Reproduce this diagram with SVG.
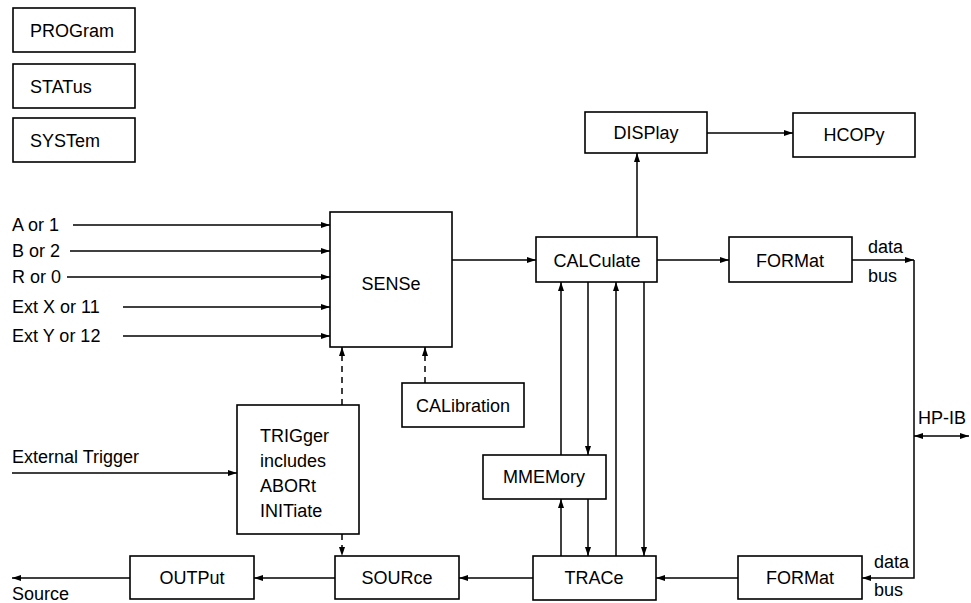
<svg xmlns="http://www.w3.org/2000/svg" width="971" height="603" viewBox="0 0 971 603">
<defs>
<marker id="ah" markerUnits="userSpaceOnUse" markerWidth="10" markerHeight="8" refX="9" refY="3" orient="auto">
<path d="M0,0 L9,3 L0,6 z" fill="#000"/>
</marker>
<marker id="ahs" markerUnits="userSpaceOnUse" markerWidth="10" markerHeight="8" refX="0" refY="3" orient="auto">
<path d="M9,0 L0,3 L9,6 z" fill="#000"/>
</marker>
<style>
rect{fill:#fff;stroke:#000;stroke-width:1.6}
text{font-family:"Liberation Sans",Arial,sans-serif;font-size:18px;fill:#000}
.c{text-anchor:middle}
.ln{fill:none;stroke:#000;stroke-width:1.5}
.a{marker-end:url(#ah)}
.d{stroke-dasharray:6,5}
</style>
</defs>
<rect width="971" height="603" fill="#fff" style="stroke:none"/>

<g id="connectors">
<line class="ln a" x1="73" y1="225" x2="330" y2="225"/>
<line class="ln a" x1="70" y1="251" x2="330" y2="251"/>
<line class="ln a" x1="67" y1="277" x2="330" y2="277"/>
<line class="ln a" x1="123" y1="307" x2="330" y2="307"/>
<line class="ln a" x1="123" y1="336" x2="330" y2="336"/>
<line class="ln a" x1="452" y1="260" x2="536" y2="260"/>
<line class="ln a" x1="637" y1="237" x2="637" y2="153"/>
<line class="ln a" x1="707" y1="133" x2="793" y2="133"/>
<line class="ln a" x1="657" y1="260" x2="729" y2="260"/>
<line class="ln a" x1="852" y1="260" x2="914" y2="260"/>
<polyline class="ln a" points="914,260 914,578 862,578"/>
<line class="ln a" x1="914" y1="436" x2="969" y2="436" style="marker-start:url(#ahs)"/>
<line class="ln a" x1="561" y1="455" x2="561" y2="282"/>
<line class="ln a" x1="588" y1="282" x2="588" y2="455"/>
<line class="ln a" x1="616" y1="556" x2="616" y2="282"/>
<line class="ln a" x1="644" y1="282" x2="644" y2="556"/>
<line class="ln a" x1="561" y1="556" x2="561" y2="499"/>
<line class="ln a" x1="588" y1="499" x2="588" y2="556"/>
<line class="ln a" x1="738" y1="578" x2="656" y2="578"/>
<line class="ln a" x1="533" y1="578" x2="459" y2="578"/>
<line class="ln a" x1="335" y1="578" x2="254" y2="578"/>
<line class="ln a" x1="130" y1="578" x2="12" y2="578"/>
<line class="ln a" x1="12" y1="473" x2="237" y2="473"/>
<line class="ln a d" x1="342" y1="405" x2="342" y2="347"/>
<line class="ln a d" x1="342" y1="534" x2="342" y2="556"/>
<line class="ln a d" x1="425" y1="383" x2="425" y2="347"/>
</g>

<g id="labels">
<text x="12" y="231">A or 1</text>
<text x="12" y="257">B or 2</text>
<text x="12" y="283">R or 0</text>
<text x="12" y="313">Ext X or 11</text>
<text x="12" y="342">Ext Y or 12</text>
<text x="12" y="463">External Trigger</text>
<text x="12" y="600">Source</text>
<text x="868" y="253">data</text>
<text x="868" y="282">bus</text>
<text x="874" y="568">data</text>
<text x="874" y="596">bus</text>
<text x="918" y="424">HP-IB</text>
</g>

<g id="program"><rect x="13" y="8" width="122" height="44"/><text x="30" y="37">PROGram</text></g>
<g id="status"><rect x="13" y="64" width="122" height="44"/><text x="30" y="93">STATus</text></g>
<g id="system"><rect x="13" y="118" width="122" height="44"/><text x="30" y="147">SYSTem</text></g>
<g id="sense"><rect x="330" y="212" width="122" height="135"/><text class="c" x="391" y="290">SENSe</text></g>
<g id="calculate"><rect x="536" y="237" width="121" height="45"/><text class="c" x="597" y="267">CALCulate</text></g>
<g id="display"><rect x="585" y="112" width="122" height="41"/><text class="c" x="646" y="139">DISPlay</text></g>
<g id="hcopy"><rect x="793" y="113" width="122" height="44"/><text class="c" x="854" y="141">HCOPy</text></g>
<g id="format-top"><rect x="729" y="237" width="123" height="45"/><text class="c" x="790" y="267">FORMat</text></g>
<g id="calibration"><rect x="402" y="383" width="122" height="44"/><text class="c" x="463" y="412">CALibration</text></g>
<g id="trigger"><rect x="237" y="405" width="122" height="129"/>
<text x="260" y="442">TRIGger</text><text x="260" y="467">includes</text><text x="260" y="492">ABORt</text><text x="260" y="517">INITiate</text></g>
<g id="mmemory"><rect x="483" y="455" width="123" height="44"/><text class="c" x="544" y="483">MMEMory</text></g>
<g id="output"><rect x="130" y="556" width="124" height="43"/><text class="c" x="192" y="584">OUTPut</text></g>
<g id="source"><rect x="335" y="556" width="124" height="43"/><text class="c" x="397" y="584">SOURce</text></g>
<g id="trace"><rect x="533" y="556" width="123" height="44"/><text class="c" x="594" y="584">TRACe</text></g>
<g id="format-bottom"><rect x="738" y="556" width="124" height="43"/><text class="c" x="800" y="584">FORMat</text></g>
</svg>
